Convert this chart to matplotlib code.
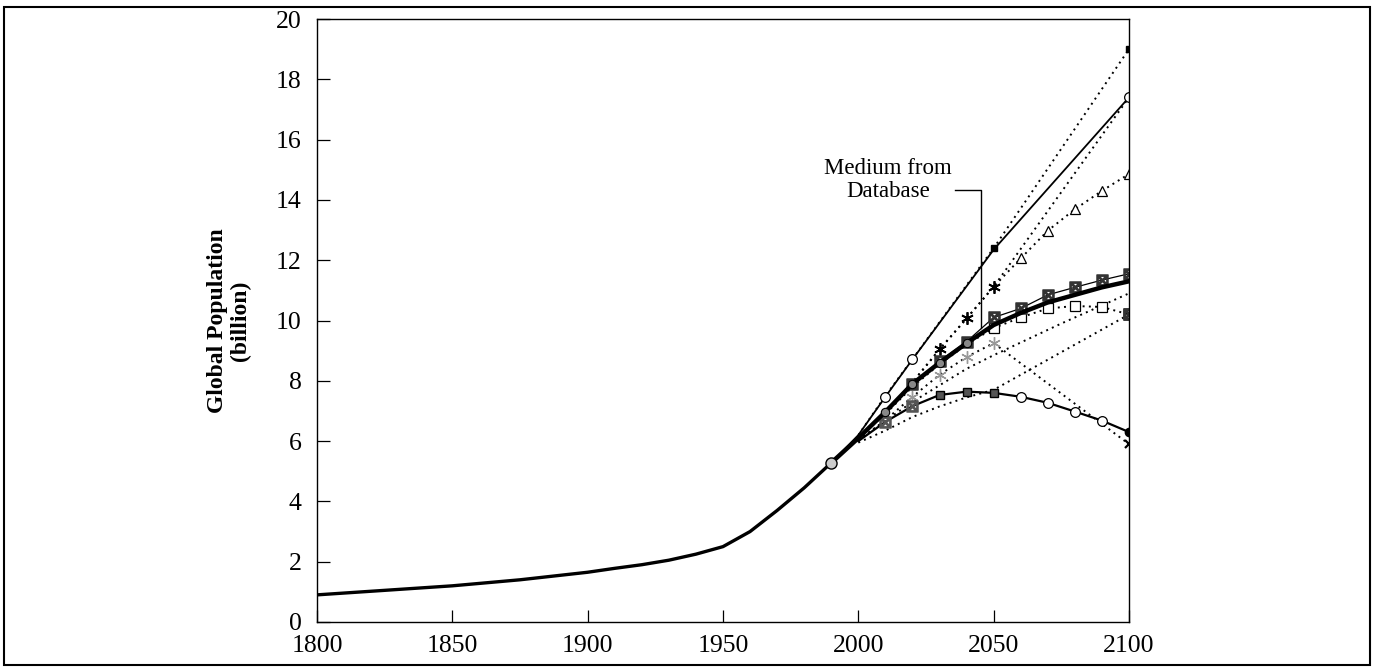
import matplotlib
matplotlib.use('Agg')
import matplotlib.pyplot as plt
from matplotlib.patches import Rectangle

SERIF = ['Liberation Serif', 'DejaVu Serif']
plt.rcParams['font.family'] = SERIF
plt.rcParams['mathtext.fontset'] = 'dejavusans'

# ---------------- data ----------------
hist_years = [1800, 1825, 1850, 1875, 1900, 1910, 1920, 1930, 1940, 1950, 1960, 1970, 1980, 1990]
hist_pop = [0.90, 1.05, 1.20, 1.40, 1.65, 1.78, 1.90, 2.05, 2.25, 2.50, 3.00, 3.70, 4.45, 5.28]

dec_years = [2000, 2010, 2020, 2030, 2040, 2050, 2060, 2070, 2080, 2090, 2100]

medium_years = [1990] + dec_years
medium_pop = [5.28, 6.10, 6.97, 7.90, 8.60, 9.25, 9.85, 10.25, 10.60, 10.85, 11.10, 11.30]

high_years = [1990, 2000, 2010, 2020, 2050, 2100]
high_pop = [5.28, 6.20, 7.47, 8.71, 12.35, 17.40]

top_years = [2000, 2010, 2020, 2050, 2100]
top_pop = [6.20, 7.50, 8.72, 12.40, 19.00]

star_years = [2000, 2010, 2020, 2030, 2040, 2050, 2100]
star_pop = [6.10, 6.95, 7.95, 9.04, 10.07, 11.12, 17.40]

tri_pop = [6.10, 6.95, 7.95, 9.04, 10.07, 11.12, 12.06, 12.98, 13.69, 14.30, 14.86]

boxx_pop = [6.10, 6.97, 7.90, 8.65, 9.30, 10.10, 10.40, 10.85, 11.10, 11.34, 11.55]

square_pop = [6.10, 6.90, 7.80, 8.55, 9.20, 9.75, 10.10, 10.40, 10.48, 10.45, 10.20]

gray_years = [2000, 2010, 2020, 2030, 2040, 2050, 2100]
gray_pop = [6.00, 6.70, 7.47, 8.20, 8.79, 9.25, 5.90]

low_pop = [6.00, 6.64, 7.16, 7.53, 7.64, 7.60, 7.47, 7.27, 6.98, 6.68, 6.30]

lowrise_years = [2000, 2010, 2020, 2030, 2040, 2050, 2100]
lowrise_pop = [5.95, 6.35, 6.80, 7.15, 7.45, 7.70, 10.20]

midrise_years = [2000, 2020, 2040, 2050, 2075, 2100]
midrise_pop = [6.05, 7.30, 8.40, 8.85, 9.90, 10.90]

x_ticks = [1800, 1850, 1900, 1950, 2000, 2050, 2100]
y_ticks = [0, 2, 4, 6, 8, 10, 12, 14, 16, 18, 20]

# ---------------- figure ----------------
fig = plt.figure(figsize=(13.75, 6.72), dpi=100)
ax = fig.add_axes([317/1375, 1-622/672, (1129-317)/1375, (622-19)/672])

DOT = dict(linestyle=(0, (1, 2.2)), linewidth=1.4, color='black')
BOXX = r'$\boxtimes$'

# dotted projections (drawn first)
ax.plot(lowrise_years, lowrise_pop, **DOT)
ax.plot(lowrise_years[-1:], lowrise_pop[-1:], linestyle='none', marker=BOXX, ms=8, color='#333333')
ax.plot(midrise_years, midrise_pop, **DOT)
ax.plot(gray_years, gray_pop, marker=(6, 2, 0), markevery=[2, 3, 4, 5], ms=9,
        mec='#999999', mew=1.0, **DOT)
ax.plot(gray_years[-1:], gray_pop[-1:], linestyle='none', marker='x', ms=6, mew=1.6, color='black')
ax.plot(dec_years, square_pop, marker='s', markevery=[5, 6, 7, 8, 9], ms=7,
        mfc='white', mec='black', mew=0.9, **DOT)
ax.plot(dec_years[-1:], square_pop[-1:], linestyle='none', marker=BOXX, ms=8, color='#333333')
ax.plot(top_years, top_pop, marker='s', markevery=[3, 4], ms=5, mfc='black', mec='black', **DOT)
ax.plot(star_years, star_pop, marker=(6, 2, 0), markevery=[3, 4, 5], ms=9, mec='black', mew=1.3, **DOT)
ax.plot(dec_years, tri_pop, marker='^', markevery=[6, 7, 8, 9, 10], ms=7,
        mfc='white', mec='black', mew=0.9, **DOT)

# solid projections
ax.plot(high_years, high_pop, color='black', linewidth=1.3, marker='o',
        markevery=[2, 3, 5], ms=7, mfc='white', mec='black', mew=0.9)
ax.plot(dec_years, boxx_pop, color='black', linewidth=0.9, marker=BOXX,
        markevery=list(range(2, 11)), ms=8, mec='#333333', mfc='#333333')
ax.plot(dec_years, low_pop, color='black', linewidth=1.6)
ax.plot([dec_years[i] for i in (1, 2)], [low_pop[i] for i in (1, 2)], linestyle='none',
        marker=BOXX, ms=8, color='#555555')
ax.plot([dec_years[i] for i in (3, 4, 5)], [low_pop[i] for i in (3, 4, 5)], linestyle='none',
        marker='s', ms=6, mfc='#555555', mec='black')
ax.plot([dec_years[i] for i in (6, 7, 8, 9)], [low_pop[i] for i in (6, 7, 8, 9)], linestyle='none',
        marker='o', ms=7, mfc='white', mec='black', mew=0.9)
ax.plot(dec_years[-1:], low_pop[-1:], linestyle='none', marker='o', ms=6, mfc='black', mec='black')

# historical + medium (bold)
ax.plot(hist_years, hist_pop, color='black', linewidth=2.4, solid_capstyle='butt')
ax.plot(medium_years, medium_pop, color='black', linewidth=3.2)
ax.plot(medium_years[:1], medium_pop[:1], linestyle='none', marker='o', ms=8,
        mfc='#cccccc', mec='black', mew=1.0)
ax.plot([medium_years[i] for i in (2, 3, 4, 5)], [medium_pop[i] for i in (2, 3, 4, 5)],
        linestyle='none', marker='o', ms=6, mfc='#888888', mec='black', mew=0.8)

# annotation
ax.text(2011, 14.66, 'Medium from\nDatabase', ha='center', va='center', fontsize=16.5,
        linespacing=1.15, family=SERIF)
ax.plot([2035.7, 2045.5, 2045.5], [14.33, 14.33, 9.75], color='black', linewidth=1.0)

# axes formatting
ax.set_xlim(1800, 2100)
ax.set_ylim(0, 20)
ax.set_xticks(x_ticks)
ax.set_yticks(y_ticks)
ax.set_xticklabels([str(v) for v in x_ticks], family=SERIF, fontsize=18.5)
ax.set_yticklabels([str(v) for v in y_ticks], family=SERIF, fontsize=18.5)
ax.tick_params(axis='both', direction='in', length=9, width=0.9, pad=9)
ax.tick_params(axis='y', pad=11)
for s in ax.spines.values():
    s.set_linewidth(1.0)
ax.set_ylabel('Global Population\n(billion)', fontsize=17, fontweight='bold',
              linespacing=1.1, labelpad=18, family=SERIF)

# outer frame
fig.patches.append(Rectangle((4/1375, 1-665/672), (1370-4)/1375, (665-7)/672,
                             transform=fig.transFigure, fill=False, edgecolor='black',
                             linewidth=1.5))

fig.savefig('out.png', dpi=100)
